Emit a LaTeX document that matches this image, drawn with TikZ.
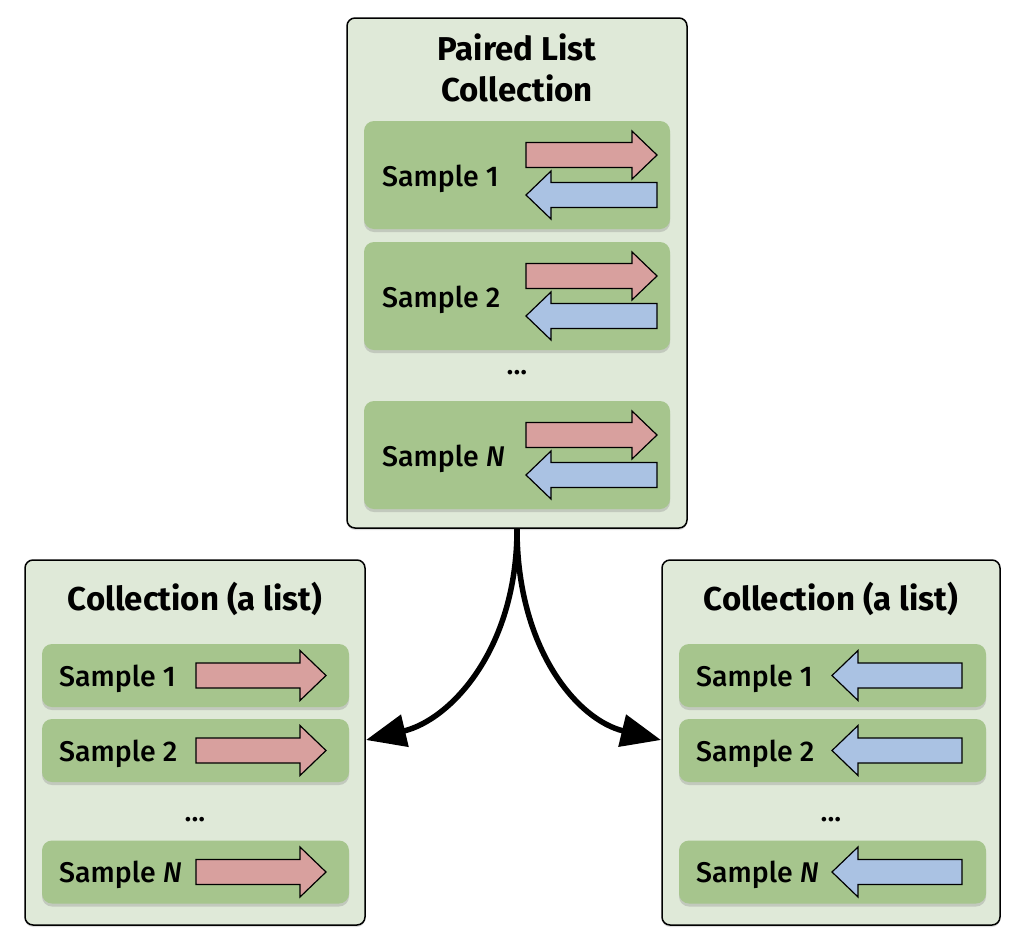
\documentclass[tikz,border=0pt]{standalone}
\usepackage{fontspec}
\setmainfont{Fira Sans}
\newfontfamily\labfont{Fira Sans}[UprightFont={* Medium},ItalicFont={* Medium Italic}]
\usetikzlibrary{shadows,arrows.meta}
\definecolor{outerfill}{HTML}{DFE9D8}
\definecolor{innerfill}{HTML}{A6C58D}
\definecolor{redfill}{HTML}{D8A09E}
\definecolor{bluefill}{HTML}{AAC2E3}
\tikzset{
  outerbox/.style={draw=black, line width=1.5pt, fill=outerfill, rounded corners=8pt,
    drop shadow={shadow xshift=0pt, shadow yshift=-2pt, opacity=0.25}},
  innerbox/.style={fill=innerfill, rounded corners=10pt, draw=none,
    drop shadow={shadow xshift=0pt, shadow yshift=-3pt, opacity=0.3}},
  titletext/.style={font=\fontsize{33}{40}\selectfont\bfseries, inner sep=0pt, anchor=base},
  labtext/.style={font=\labfont\fontsize{28.5}{32}\selectfont, inner sep=0pt, anchor=base west},
  dotstext/.style={font=\labfont\fontsize{28.5}{32}\selectfont, inner sep=0pt},
  redarr/.style={draw=black, line width=1.2pt, fill=redfill, line join=miter},
  bluearr/.style={draw=black, line width=1.2pt, fill=bluefill, line join=miter},
  conn/.style={draw=black, line width=5.5pt, -{Triangle[length=40pt,width=32pt]}}
}
% tail x, head base x, tip x, centre y, body half, head half
\newcommand\myRightArrow[6]{%
  \draw[redarr] (#1,#4-#5) -- (#2,#4-#5) -- (#2,#4-#6) -- (#3,#4) -- (#2,#4+#6) -- (#2,#4+#5) -- (#1,#4+#5) -- cycle;}
% tip x, head base x, tail x, centre y, body half, head half
\newcommand\myLeftArrow[6]{%
  \draw[bluearr] (#3,#4-#5) -- (#2,#4-#5) -- (#2,#4-#6) -- (#1,#4) -- (#2,#4+#6) -- (#2,#4+#5) -- (#3,#4+#5) -- cycle;}
\begin{document}
\begin{tikzpicture}[x=1pt,y=-1pt]
\useasboundingbox (0,0) rectangle (1020,940);

% ---------- top box ----------
\node[outerbox, minimum width=340pt, minimum height=510pt] (top) at (517,273) {};
\node[titletext] (toptitle1) at (517,60) {Paired List};
\node[titletext] (toptitle2) at (517,101) {Collection};

\node[innerbox, minimum width=306pt, minimum height=108pt] (ts1) at (517,175) {};
\node[labtext] (ts1t) at (382,186) {Sample 1};
\myRightArrow{526}{632}{657}{155}{12.5}{24}
\myLeftArrow{526}{551}{657}{195}{12.5}{24}

\node[innerbox, minimum width=306pt, minimum height=108pt] (ts2) at (517,296) {};
\node[labtext] (ts2t) at (382,307) {Sample 2};
\myRightArrow{526}{632}{657}{276}{12.5}{24}
\myLeftArrow{526}{551}{657}{316}{12.5}{24}

\node[dotstext] (tdots) at (517,373) {...};

\node[innerbox, minimum width=306pt, minimum height=108pt] (tsn) at (517,455) {};
\node[labtext] (tsnt) at (382,466) {Sample \textit{N}};
\myRightArrow{526}{632}{657}{435}{12.5}{24}
\myLeftArrow{526}{551}{657}{475}{12.5}{24}

% ---------- left box ----------
\node[outerbox, minimum width=340pt, minimum height=365pt] (left) at (195,742.5) {};
\node[titletext] (lefttitle) at (195,610) {Collection (a list)};

\node[innerbox, minimum width=307pt, minimum height=63pt] (ls1) at (195.5,675.5) {};
\node[labtext] (ls1t) at (59,686) {Sample 1};
\myRightArrow{196}{300}{326}{675.5}{12.5}{25}

\node[innerbox, minimum width=307pt, minimum height=63pt] (ls2) at (195.5,750.5) {};
\node[labtext] (ls2t) at (59,761) {Sample 2};
\myRightArrow{196}{300}{326}{750.5}{12.5}{25}

\node[dotstext] (ldots) at (195,820) {...};

\node[innerbox, minimum width=307pt, minimum height=63pt] (lsn) at (195.5,872) {};
\node[labtext] (lsnt) at (59,882.5) {Sample \textit{N}};
\myRightArrow{196}{300}{326}{872}{12.5}{25}

% ---------- right box ----------
\node[outerbox, minimum width=338pt, minimum height=365pt] (right) at (831,742.5) {};
\node[titletext] (righttitle) at (831,610) {Collection (a list)};

\node[innerbox, minimum width=307pt, minimum height=63pt] (rs1) at (832.5,675.5) {};
\node[labtext] (rs1t) at (696,686) {Sample 1};
\myLeftArrow{832}{858}{962}{675.5}{12.5}{25}

\node[innerbox, minimum width=307pt, minimum height=63pt] (rs2) at (832.5,750.5) {};
\node[labtext] (rs2t) at (696,761) {Sample 2};
\myLeftArrow{832}{858}{962}{750.5}{12.5}{25}

\node[dotstext] (rdots) at (831,820) {...};

\node[innerbox, minimum width=307pt, minimum height=63pt] (rsn) at (832.5,872) {};
\node[labtext] (rsnt) at (696,882.5) {Sample \textit{N}};
\myLeftArrow{832}{858}{962}{872}{12.5}{25}

% ---------- connectors ----------
\coordinate (lend) at (366,740);
\coordinate (rend) at (661,740);
\draw[conn] (top.south) .. controls (517,650) and (450,720) .. (lend);
\draw[conn] (top.south) .. controls (517,650) and (578,720) .. (rend);
\end{tikzpicture}
\end{document}
